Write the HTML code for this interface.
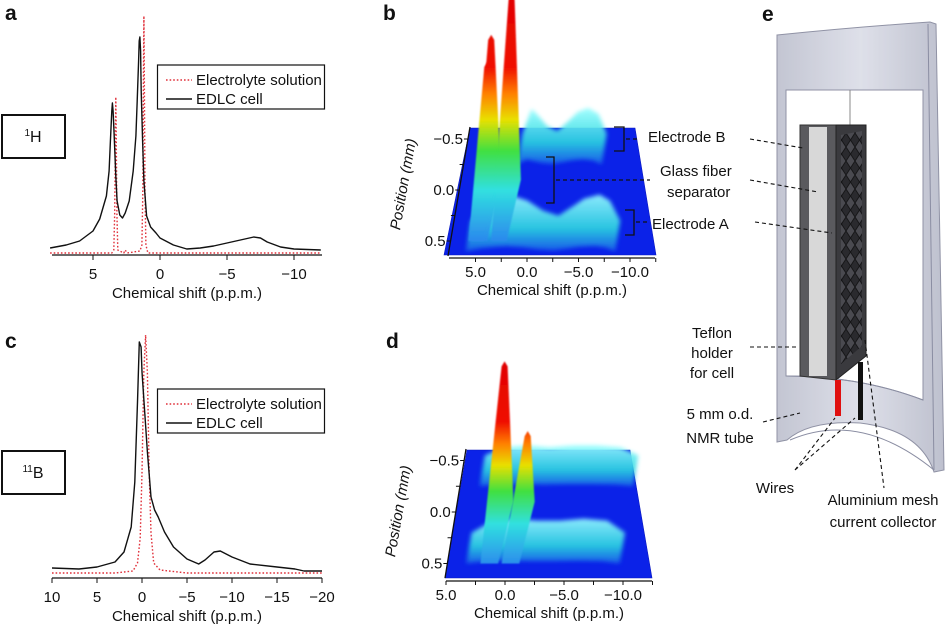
<!DOCTYPE html>
<html><head><meta charset="utf-8">
<style>
html,body{margin:0;padding:0;background:#fff;}
svg{display:block;font-family:"Liberation Sans",sans-serif;}
</style></head>
<body>
<svg id="fig" width="946" height="628" viewBox="0 0 946 628">
<defs>
<linearGradient id="tubeg" x1="0" x2="1" y1="0" y2="0"><stop offset="0" stop-color="#b9bccb"/><stop offset="0.5" stop-color="#d9dbe6"/><stop offset="1" stop-color="#b3b6c6"/></linearGradient>
<linearGradient id="humpg" x1="0" x2="0" y1="0" y2="1"><stop offset="0" stop-color="#9ff"/><stop offset="0.6" stop-color="#2cd6e0"/><stop offset="1" stop-color="#1a60e8"/></linearGradient>
<filter id="blur"><feGaussianBlur stdDeviation="2.2"/></filter>
<filter id="blur2"><feGaussianBlur stdDeviation="0.8"/></filter>
<pattern id="mesh" width="9" height="14" patternUnits="userSpaceOnUse"><rect width="9" height="14" fill="#2a2a2e"/><path d="M0 7 L4.5 0 L9 7 L4.5 14 Z" fill="#4a4a50" stroke="#161618" stroke-width="1"/></pattern>
</defs>
</svg>
<script>
// ---- panel a data (1H) ----
const aEdlcPpm=[8.2,7,6,5,4.5,4,3.8,3.7,3.6,3.55,3.5,3.4,3.3,3.2,3.0,2.8,2.6,2.3,2.0,1.8,1.7,1.6,1.55,1.5,1.45,1.4,1.3,1.2,1.0,0.7,0.3,0,-1,-2,-3,-4,-5,-6,-7,-7.5,-8,-9,-10,-12];
const aEdlcVal=[3,6,10,20,32,55,80,110,140,148,140,110,75,50,36,33,38,50,80,115,150,190,210,214,200,160,110,70,35,24,18,13,6,2,3,5,8,11,14,13,9,4,2,1];
const aElecPpm=[8.2,3.6,3.45,3.38,3.33,3.3,3.27,3.22,3.15,2.7,2.6,2.45,1.5,1.35,1.28,1.23,1.2,1.17,1.12,1.05,0.9,-12];
const aElecVal=[0,0,3,40,120,156,120,40,3,0,3,0,2,8,60,180,237,180,60,8,0,0];
// ---- panel c data (11B) ----
const cEdlcPpm=[10,7,5,3,2,1.2,0.8,0.5,0.3,0.1,0,-0.3,-0.6,-1,-1.4,-1.8,-2.5,-3.5,-5,-6.3,-7,-8,-8.7,-10,-12,-15,-17,-18,-20];
const cEdlcVal=[4,3,5,10,20,45,90,170,230,225,200,160,120,75,62,55,40,25,13,8,12,20,21,15,8,5,3,1,1];
const cElecPpm=[10,3,1,0.5,0.2,0,-0.2,-0.4,-0.6,-0.8,-1,-1.3,-2,-5,-20];
const cElecVal=[0,0,2,10,35,100,200,238,200,100,40,10,3,0,0];
const aTicks=[5,0,-5,-10], aTickLabels=["5","0","\u22125","\u221210"];
const cTicks=[10,5,0,-5,-10,-15,-20], cTickLabels=["10","5","0","\u22125","\u221210","\u221215","\u221220"];
// ---- panel b/d (2D maps) ----
const bPeakPpm=[4.6,4.9,2.7], bPeakPos=[-0.05,0.0,-0.1], bPeakH=[150,128,185];
const bHumpPos=[-0.55,0.3];
const bHumpPpm=[[2.4,1.5,1,0,-1,-2,-3,-4,-5,-5.8],[6,4.5,3,2,0.5,-1,-2.5,-4,-5,-6.5,-7.5,-8.5]];
const bHumpH=[[0,25,20,8,3,12,22,26,20,0],[0,15,22,25,20,10,5,15,22,26,20,0]];
const dPeakPpm=[1.3,-0.5], dPeakPos=[-0.2,-0.3], dPeakH=[130,50];
const dHumpPos=[-0.55,0.2];
const dHumpPpm=[[3.5,2,0,-2,-4,-6,-8,-9.5],[3.5,2,0,-2,-4,-6,-8,-9.5]];
const dHumpH=[[0,8,10,8,10,10,8,0],[0,10,14,12,12,14,12,0]];
const mapTicks=[5,2.5,0,-2.5,-5,-7.5,-10,-12.5], mapTickLabels=["5.0","","0.0","","\u22125.0","","\u221210.0",""];
const posTicks=[-0.5,-0.25,0,0.25,0.5], posTickLabels=["\u22120.5","","0.0","","0.5"];

const NS='http://www.w3.org/2000/svg';
const svg=document.getElementById('fig');
function mk(tag,attrs,parent){const e=document.createElementNS(NS,tag);for(const k in attrs)e.setAttribute(k,attrs[k]);(parent||svg).appendChild(e);return e;}
function txt(x,y,s,size,anchor,parent,extra){const t=mk('text',Object.assign({x:x,y:y,'font-size':size,'text-anchor':anchor||'middle',fill:'#111'},extra||{}),parent);t.textContent=s;return t;}

function spectrum(g,xs,vs,xf,base,style){let d='';xs.forEach((p,i)=>{d+=(i?'L':'M')+xf(p).toFixed(1)+' '+(base-vs[i]).toFixed(1);});return mk('path',Object.assign({d:d,fill:'none','stroke-linejoin':'round'},style),g);}

// panel a
const ga=mk('g',{});


const xa=p=>160-13.4*p;
let t=txt(5,20,'a',21,'start',ga,{'font-weight':'bold'});


const la=mk('line',{x1:52,x2:322,y1:255,y2:255,stroke:'#111','stroke-width':1.3},ga);


aTicks.forEach((v,i)=>{mk('line',{x1:xa(v),x2:xa(v),y1:255,y2:260,stroke:'#111'},ga);const tl=txt(xa(v),279,aTickLabels[i],15,'middle',ga);});
t=txt(187,298,'Chemical shift (p.p.m.)',15,'middle',ga);


let s=spectrum(ga,aElecPpm,aElecVal,xa,253,{stroke:'#e0303a','stroke-width':1.4,'stroke-dasharray':'1.6 2'});


s=spectrum(ga,aEdlcPpm,aEdlcVal,xa,251,{stroke:'#111','stroke-width':1.4});



// panel c
const gc=mk('g',{});


const xc=p=>142-9*p;
t=txt(5,348,'c',21,'start',gc,{'font-weight':'bold'});


const lc=mk('line',{x1:52,x2:322,y1:578,y2:578,stroke:'#111','stroke-width':1.3},gc);


cTicks.forEach((v,i)=>{mk('line',{x1:xc(v),x2:xc(v),y1:578,y2:583,stroke:'#111'},gc);const tl=txt(xc(v),602,cTickLabels[i],15,'middle',gc);});
t=txt(187,621,'Chemical shift (p.p.m.)',15,'middle',gc);


s=spectrum(gc,cElecPpm,cElecVal,xc,573,{stroke:'#e0303a','stroke-width':1.4,'stroke-dasharray':'1.6 2'});


s=spectrum(gc,cEdlcPpm,cEdlcVal,xc,572,{stroke:'#111','stroke-width':1.4});



function legend(y0,name){const g=mk('g',{});
 mk('rect',{x:157.5,y:y0,width:167,height:44,fill:'#fff',stroke:'#111','stroke-width':1.2},g);
 mk('line',{x1:166,x2:192,y1:y0+15,y2:y0+15,stroke:'#e0303a','stroke-width':1.4,'stroke-dasharray':'1.6 2'},g);
 mk('line',{x1:166,x2:192,y1:y0+34,y2:y0+34,stroke:'#111','stroke-width':1.4},g);
 txt(196,y0+20,'Electrolyte solution',15,'start',g);txt(196,y0+39,'EDLC cell',15,'start',g);}
legend(65,'legend-a');legend(389,'legend-c');
function nbox(y0,sup,el,name){const g=mk('g',{});
 mk('rect',{x:2,y:y0,width:63,height:43,fill:'#fff',stroke:'#111','stroke-width':2},g);
 const tt=mk('text',{x:33,y:y0+27,'font-size':16,'text-anchor':'middle',fill:'#111'},g);
 const ts=mk('tspan',{'font-size':10,dy:-6},tt);ts.textContent=sup;const tm=mk('tspan',{dy:6},tt);tm.textContent=el;}
nbox(115,'1','H','nucleus-box-1h');nbox(451,'11','B','nucleus-box-11b');

// --- 3D map panels ---
function mapPanel(cfg){
 const g=mk('g',{});
 const yP=p=>cfg.y0+p*cfg.ys;
 const xM=(ppm,p)=>cfg.x0-cfg.xs*ppm+(cfg.front-yP(p))*cfg.skew;
 t=txt(cfg.lx,cfg.ly,cfg.letter,21,'start',g,{'font-weight':'bold'});
 
 
 const pl=mk('polygon',{points:cfg.plane,fill:'#0b22e8',stroke:'#0a18c0','stroke-width':0.6},g);
 
 
 cfg.hPos.forEach((pb,k)=>{const pf=pb+0.3;let pts=[];
  cfg.hPpm[k].forEach((pp,i)=>pts.push(xM(pp,pb).toFixed(1)+','+(yP(pb)-cfg.hH[k][i]).toFixed(1)));
  for(let i=cfg.hPpm[k].length-1;i>=0;i--)pts.push(xM(cfg.hPpm[k][i],pf).toFixed(1)+','+(yP(pf)-cfg.hH[k][i]*0.2).toFixed(1));
  const h=mk('polygon',{points:pts.join(' '),fill:'url(#humpg)',filter:'url(#blur)',opacity:0.9},g);
  
  });
 const maxH=Math.max(...cfg.pH.map((h,i)=>h+(cfg.front-yP(cfg.pPos[i]))));
 const gid=cfg.letter+'pg';const lg=mk('linearGradient',{id:gid,gradientUnits:'userSpaceOnUse',x1:0,x2:0,y1:cfg.front-maxH,y2:cfg.front},svg.querySelector('defs'));
 [['0','#e00000'],['0.28','#f01000'],['0.38','#ff8000'],['0.48','#e8e000'],['0.6','#40e040'],['0.75','#30e0e0'],['1','#2a70f0']].forEach(st=>mk('stop',{offset:st[0],'stop-color':st[1]},lg));
 cfg.pPpm.forEach((pp,i)=>{const ax=xM(pp,cfg.pPos[i]),ay=yP(cfg.pPos[i])-cfg.pH[i];
  const pts=[[xM(pp+1.0,0.5),yP(0.5)],[ax-3,ay+5],[ax,ay],[ax+3,ay+5],[xM(pp-0.9,-0.1),yP(-0.1)],[xM(pp-0.5,0.5),yP(0.5)]];
  const pk=mk('polygon',{points:pts.map(q=>q[0].toFixed(1)+','+q[1].toFixed(1)).join(' '),fill:'url(#'+gid+')',filter:'url(#blur2)'},g);
  
  });
 const ax=mk('line',{x1:cfg.ax1,x2:cfg.ax2,y1:cfg.front+3,y2:cfg.front+3,stroke:'#111','stroke-width':1.3},g);
 
 
 mapTicks.forEach((v,i)=>{const xx=cfg.x0-cfg.xs*v;mk('line',{x1:xx,x2:xx,y1:cfg.front+3,y2:cfg.front+7,stroke:'#111'},g);
  if(mapTickLabels[i]){const tl=txt(xx,cfg.front+22,mapTickLabels[i],15,'middle',g);}});
 t=txt((cfg.ax1+cfg.ax2)/2,cfg.front+40,'Chemical shift (p.p.m.)',15,'middle',g);
 
 
 const ya=mk('line',{x1:cfg.yl[0],y1:cfg.yl[1],x2:cfg.yl[2],y2:cfg.yl[3],stroke:'#111','stroke-width':1.3},g);
 
 
 posTicks.forEach((v,i)=>{const yy=yP(v);const xx=cfg.yl[0]+(yy-cfg.yl[1])/(cfg.yl[3]-cfg.yl[1])*(cfg.yl[2]-cfg.yl[0]);
  mk('line',{x1:xx-4,x2:xx,y1:yy,y2:yy,stroke:'#111'},g);
  if(posTickLabels[i]){const tl=txt(xx-5,yy+5,posTickLabels[i],15,'end',g);}});
 const yt=mk('text',{x:0,y:0,'font-size':15,'font-style':'italic','text-anchor':'middle',fill:'#111',transform:'translate('+cfg.ytx+','+cfg.yty+') rotate(-80)'},g);
 yt.textContent='Position (mm)';
 
 
 return {xM,yP,g};
}
const B=mapPanel({name:'panel-b',letter:'b',lx:383,ly:20,x0:527,xs:10.3,front:255,skew:0.165,y0:190,ys:102,
 plane:'470,128 635,128 656,255 444,255',hPos:bHumpPos,hPpm:bHumpPpm,hH:bHumpH,pPpm:bPeakPpm,pPos:bPeakPos,pH:bPeakH,
 ax1:449,ax2:655,yl:[470,127,448,256],ytx:408,yty:185});
const D=mapPanel({name:'panel-d',letter:'d',lx:386,ly:348,x0:505,xs:11.8,front:578,skew:0.173,y0:512,ys:103,
 plane:'467,450 630,450 652,578 445,578',hPos:dHumpPos,hPpm:dHumpPpm,hH:dHumpH,pPpm:dPeakPpm,pPos:dPeakPos,pH:dPeakH,
 ax1:446,ax2:652,yl:[466,449,445,578],ytx:403,yty:512});

const gl=mk('g',{fill:'none',stroke:'#111','stroke-width':1.3});


[[614,127,151,622],[546,157,203,552],[625,210,235,632]].forEach(b=>{
 mk('path',{d:'M'+b[0]+' '+b[1]+' H'+(b[3]+2)+' V'+b[2]+' H'+b[0]},gl);});
mk('path',{d:'M626 139 H640 M556 180 H650 M636 222 H648',stroke:'#111','stroke-dasharray':'4 3'},gl);

// --- panel e ---
const ge=mk('g',{});


t=txt(762,21,'e',21,'start',ge,{'font-weight':'bold'});


const tube=mk('path',{d:'M777 35 Q855 27 930 22 L936 24 L944 470 L934 472 Q920 430 860 423 Q810 420 787 440 L777 442 Z M786 90 L923 90 L923 400 Q860 376 786 376 Z','fill-rule':'evenodd',fill:'url(#tubeg)',stroke:'#7d8096','stroke-width':1,opacity:0.85},ge);


mk('path',{d:'M928 24 L934 470 M786 376 Q860 376 923 400 M790 440 Q860 410 934 470',fill:'none',stroke:'#8a8da2','stroke-width':1},ge);
mk('line',{x1:850,x2:850,y1:90,y2:125,stroke:'#888','stroke-width':1},ge);
const cell=mk('g',{},ge);


mk('polygon',{points:'800,125 836,125 836,380 800,376',fill:'#5a5a5e',stroke:'#333'},cell);
mk('rect',{x:809,y:127,width:18,height:249,fill:'#d8d8d8'},cell);
mk('polygon',{points:'836,125 866,125 866,356 836,380',fill:'#3a3a3e',stroke:'#222'},cell);
mk('polygon',{points:'841,135 862,131 862,346 841,364',fill:'url(#mesh)'},cell);
const rw=mk('rect',{x:835,y:380,width:6,height:36,fill:'#e01010'},ge);


const bw=mk('rect',{x:858,y:362,width:5,height:58,fill:'#111'},ge);


const gd=mk('g',{fill:'none',stroke:'#111','stroke-width':1.1,'stroke-dasharray':'4 3'});


mk('path',{d:'M750 139 L803 148 M750 180 L818 192 M755 222 L832 233 M750 347 L796 347 M763 422 L800 413 M795 470 L835 418 M795 470 L855 418 M865 340 L884 488'},gd);
const labs=[['Electrode B',648,142,'start'],['Glass fiber',660,176,'start'],['separator',667,197,'start'],['Electrode A',652,229,'start'],
 ['Teflon',712,338,'middle'],['holder',712,358,'middle'],['for cell',712,378,'middle'],['5 mm o.d.',720,419,'middle'],['NMR tube',720,443,'middle'],
 ['Wires',775,493,'middle'],['Aluminium mesh',883,505,'middle'],['current collector',883,527,'middle']];
labs.forEach(l=>{const tl=txt(l[1],l[2],l[0],15,l[3]);});
</script>
</body></html>
